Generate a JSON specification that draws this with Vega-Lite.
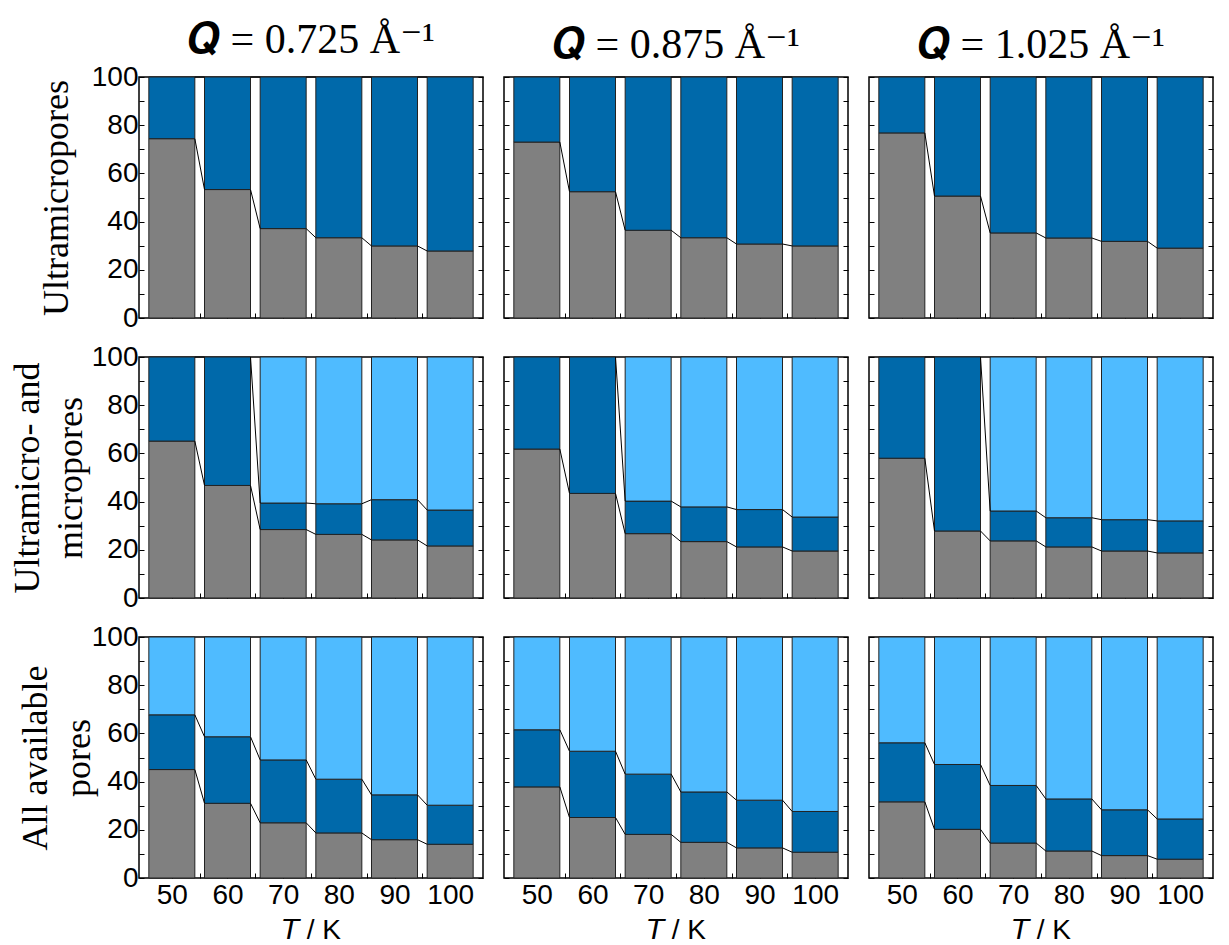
{
  "$schema": "https://vega.github.io/schema/vega-lite/v6.json",
  "background": "white",
  "padding": {"left": 8, "top": 18, "right": 0, "bottom": 0},
  "data": {"values": [
    {"p":"u","q":"0.725","T":50,"g":74.4,"d":100},{"p":"u","q":"0.725","T":60,"g":53.3,"d":100},{"p":"u","q":"0.725","T":70,"g":37.1,"d":100},{"p":"u","q":"0.725","T":80,"g":33.3,"d":100},{"p":"u","q":"0.725","T":90,"g":29.9,"d":100},{"p":"u","q":"0.725","T":100,"g":27.8,"d":100},
    {"p":"u","q":"0.875","T":50,"g":73.0,"d":100},{"p":"u","q":"0.875","T":60,"g":52.4,"d":100},{"p":"u","q":"0.875","T":70,"g":36.4,"d":100},{"p":"u","q":"0.875","T":80,"g":33.3,"d":100},{"p":"u","q":"0.875","T":90,"g":30.7,"d":100},{"p":"u","q":"0.875","T":100,"g":29.9,"d":100},
    {"p":"u","q":"1.025","T":50,"g":76.8,"d":100},{"p":"u","q":"1.025","T":60,"g":50.6,"d":100},{"p":"u","q":"1.025","T":70,"g":35.3,"d":100},{"p":"u","q":"1.025","T":80,"g":33.2,"d":100},{"p":"u","q":"1.025","T":90,"g":31.8,"d":100},{"p":"u","q":"1.025","T":100,"g":29.0,"d":100},
    {"p":"m","q":"0.725","T":50,"g":65.1,"d":100},{"p":"m","q":"0.725","T":60,"g":46.7,"d":100},{"p":"m","q":"0.725","T":70,"g":28.4,"d":39.4},{"p":"m","q":"0.725","T":80,"g":26.4,"d":39.1},{"p":"m","q":"0.725","T":90,"g":24.1,"d":40.8},{"p":"m","q":"0.725","T":100,"g":21.6,"d":36.5},
    {"p":"m","q":"0.875","T":50,"g":61.8,"d":100},{"p":"m","q":"0.875","T":60,"g":43.4,"d":100},{"p":"m","q":"0.875","T":70,"g":26.7,"d":40.2},{"p":"m","q":"0.875","T":80,"g":23.4,"d":37.8},{"p":"m","q":"0.875","T":90,"g":21.2,"d":36.7},{"p":"m","q":"0.875","T":100,"g":19.5,"d":33.6},
    {"p":"m","q":"1.025","T":50,"g":58.0,"d":100},{"p":"m","q":"1.025","T":60,"g":27.8,"d":100},{"p":"m","q":"1.025","T":70,"g":23.7,"d":36.1},{"p":"m","q":"1.025","T":80,"g":21.2,"d":33.3},{"p":"m","q":"1.025","T":90,"g":19.5,"d":32.5},{"p":"m","q":"1.025","T":100,"g":18.7,"d":32.0},
    {"p":"a","q":"0.725","T":50,"g":45.0,"d":67.7},{"p":"a","q":"0.725","T":60,"g":31.0,"d":58.6},{"p":"a","q":"0.725","T":70,"g":22.9,"d":49.0},{"p":"a","q":"0.725","T":80,"g":18.7,"d":41.0},{"p":"a","q":"0.725","T":90,"g":15.9,"d":34.5},{"p":"a","q":"0.725","T":100,"g":14.0,"d":30.2},
    {"p":"a","q":"0.875","T":50,"g":37.8,"d":61.5},{"p":"a","q":"0.875","T":60,"g":25.1,"d":52.6},{"p":"a","q":"0.875","T":70,"g":18.1,"d":43.1},{"p":"a","q":"0.875","T":80,"g":14.8,"d":35.7},{"p":"a","q":"0.875","T":90,"g":12.5,"d":32.3},{"p":"a","q":"0.875","T":100,"g":10.7,"d":27.6},
    {"p":"a","q":"1.025","T":50,"g":31.6,"d":56.1},{"p":"a","q":"1.025","T":60,"g":20.2,"d":47.1},{"p":"a","q":"1.025","T":70,"g":14.5,"d":38.4},{"p":"a","q":"1.025","T":80,"g":11.2,"d":32.8},{"p":"a","q":"1.025","T":90,"g":9.3,"d":28.3},{"p":"a","q":"1.025","T":100,"g":7.8,"d":24.5}
  ]},
  "columns": 3,
  "bounds": "flush",
  "spacing": {"row": 39, "column": 21},
  "concat": [
    {"width":344,"height":241,"title":{"text":"𝑸 = 0.725 Å⁻¹","offset":1},
     "transform":[{"filter":"datum.p=='u' && datum.q=='0.725'"}],
     "layer":[
      {"mark":{"type":"bar","width":46,"fill":"#808080","stroke":"#222","strokeWidth":1},
       "encoding":{"x":{"field":"T","type":"quantitative","scale":{"domain":[45,105],"nice":false,"zero":false},"axis":null},
                   "y":{"field":"g","type":"quantitative","scale":{"domain":[0,100],"nice":false},"axis":{"values":[0,10,20,30,40,50,60,70,80,90,100],"labelExpr":"datum.value % 20 === 0 ? datum.label : ''","title":"Ultramicropores","titlePadding":16}}}},
      {"mark":{"type":"bar","width":46,"fill":"#0069AA","stroke":"#222","strokeWidth":1},
       "encoding":{"x":{"field":"T","type":"quantitative","axis":null},"y":{"field":"d","type":"quantitative","axis":null},"y2":{"field":"g"}}},
      {"transform":[{"filter":"datum.d < 100"}],"mark":{"type":"bar","width":46,"fill":"#4FBBFF","stroke":"#222","strokeWidth":1},
       "encoding":{"x":{"field":"T","type":"quantitative","axis":null},"y":{"field":"d","type":"quantitative","axis":null},"y2":{"datum":100}}},
      {"transform":[{"window":[{"op":"lead","field":"T","as":"Tn"},{"op":"lead","field":"g","as":"gn"},{"op":"lead","field":"d","as":"dn"}],"sort":[{"field":"T"}]},{"filter":"datum.Tn != null"}],
       "layer":[
        {"mark":{"type":"rule","xOffset":23,"x2Offset":-23,"color":"#000","strokeWidth":1},"encoding":{"x":{"field":"T","type":"quantitative","axis":null},"x2":{"field":"Tn"},"y":{"field":"g","type":"quantitative","axis":null},"y2":{"field":"gn"}}},
        {"mark":{"type":"rule","xOffset":23,"x2Offset":-23,"color":"#000","strokeWidth":1},"encoding":{"x":{"field":"T","type":"quantitative","axis":null},"x2":{"field":"Tn"},"y":{"field":"d","type":"quantitative","axis":null},"y2":{"field":"dn"}}}
       ]},
      {"mark":{"type":"point","opacity":0},"encoding":{"x":{"field":"T","type":"quantitative","axis":{"orient":"bottom","values":[50,55,60,65,70,75,80,85,90,95,100],"labels":false,"title":null}},"y":{"field":"g","type":"quantitative","axis":{"orient":"right","values":[0,10,20,30,40,50,60,70,80,90,100],"labels":false,"title":null}}}}
     ],
     "resolve":{"axis":{"x":"independent","y":"independent"}}},
    {"width":344,"height":241,"title":{"text":"𝑸 = 0.875 Å⁻¹","offset":10},
     "transform":[{"filter":"datum.p=='u' && datum.q=='0.875'"}],
     "layer":[
      {"mark":{"type":"bar","width":46,"fill":"#808080","stroke":"#222","strokeWidth":1},
       "encoding":{"x":{"field":"T","type":"quantitative","scale":{"domain":[45,105],"nice":false,"zero":false},"axis":null},
                   "y":{"field":"g","type":"quantitative","scale":{"domain":[0,100],"nice":false},"axis":{"values":[0,10,20,30,40,50,60,70,80,90,100],"labels":false,"title":null}}}},
      {"mark":{"type":"bar","width":46,"fill":"#0069AA","stroke":"#222","strokeWidth":1},
       "encoding":{"x":{"field":"T","type":"quantitative","axis":null},"y":{"field":"d","type":"quantitative","axis":null},"y2":{"field":"g"}}},
      {"transform":[{"filter":"datum.d < 100"}],"mark":{"type":"bar","width":46,"fill":"#4FBBFF","stroke":"#222","strokeWidth":1},
       "encoding":{"x":{"field":"T","type":"quantitative","axis":null},"y":{"field":"d","type":"quantitative","axis":null},"y2":{"datum":100}}},
      {"transform":[{"window":[{"op":"lead","field":"T","as":"Tn"},{"op":"lead","field":"g","as":"gn"},{"op":"lead","field":"d","as":"dn"}],"sort":[{"field":"T"}]},{"filter":"datum.Tn != null"}],
       "layer":[
        {"mark":{"type":"rule","xOffset":23,"x2Offset":-23,"color":"#000","strokeWidth":1},"encoding":{"x":{"field":"T","type":"quantitative","axis":null},"x2":{"field":"Tn"},"y":{"field":"g","type":"quantitative","axis":null},"y2":{"field":"gn"}}},
        {"mark":{"type":"rule","xOffset":23,"x2Offset":-23,"color":"#000","strokeWidth":1},"encoding":{"x":{"field":"T","type":"quantitative","axis":null},"x2":{"field":"Tn"},"y":{"field":"d","type":"quantitative","axis":null},"y2":{"field":"dn"}}}
       ]},
      {"mark":{"type":"point","opacity":0},"encoding":{"x":{"field":"T","type":"quantitative","axis":{"orient":"bottom","values":[50,55,60,65,70,75,80,85,90,95,100],"labels":false,"title":null}},"y":{"field":"g","type":"quantitative","axis":{"orient":"right","values":[0,10,20,30,40,50,60,70,80,90,100],"labels":false,"title":null}}}}
     ],
     "resolve":{"axis":{"x":"independent","y":"independent"}}},
    {"width":344,"height":241,"title":{"text":"𝑸 = 1.025 Å⁻¹","offset":10},
     "transform":[{"filter":"datum.p=='u' && datum.q=='1.025'"}],
     "layer":[
      {"mark":{"type":"bar","width":46,"fill":"#808080","stroke":"#222","strokeWidth":1},
       "encoding":{"x":{"field":"T","type":"quantitative","scale":{"domain":[45,105],"nice":false,"zero":false},"axis":null},
                   "y":{"field":"g","type":"quantitative","scale":{"domain":[0,100],"nice":false},"axis":{"values":[0,10,20,30,40,50,60,70,80,90,100],"labels":false,"title":null}}}},
      {"mark":{"type":"bar","width":46,"fill":"#0069AA","stroke":"#222","strokeWidth":1},
       "encoding":{"x":{"field":"T","type":"quantitative","axis":null},"y":{"field":"d","type":"quantitative","axis":null},"y2":{"field":"g"}}},
      {"transform":[{"filter":"datum.d < 100"}],"mark":{"type":"bar","width":46,"fill":"#4FBBFF","stroke":"#222","strokeWidth":1},
       "encoding":{"x":{"field":"T","type":"quantitative","axis":null},"y":{"field":"d","type":"quantitative","axis":null},"y2":{"datum":100}}},
      {"transform":[{"window":[{"op":"lead","field":"T","as":"Tn"},{"op":"lead","field":"g","as":"gn"},{"op":"lead","field":"d","as":"dn"}],"sort":[{"field":"T"}]},{"filter":"datum.Tn != null"}],
       "layer":[
        {"mark":{"type":"rule","xOffset":23,"x2Offset":-23,"color":"#000","strokeWidth":1},"encoding":{"x":{"field":"T","type":"quantitative","axis":null},"x2":{"field":"Tn"},"y":{"field":"g","type":"quantitative","axis":null},"y2":{"field":"gn"}}},
        {"mark":{"type":"rule","xOffset":23,"x2Offset":-23,"color":"#000","strokeWidth":1},"encoding":{"x":{"field":"T","type":"quantitative","axis":null},"x2":{"field":"Tn"},"y":{"field":"d","type":"quantitative","axis":null},"y2":{"field":"dn"}}}
       ]},
      {"mark":{"type":"point","opacity":0},"encoding":{"x":{"field":"T","type":"quantitative","axis":{"orient":"bottom","values":[50,55,60,65,70,75,80,85,90,95,100],"labels":false,"title":null}},"y":{"field":"g","type":"quantitative","axis":{"orient":"right","values":[0,10,20,30,40,50,60,70,80,90,100],"labels":false,"title":null}}}}
     ],
     "resolve":{"axis":{"x":"independent","y":"independent"}}},

    {"width":344,"height":241,
     "transform":[{"filter":"datum.p=='m' && datum.q=='0.725'"}],
     "layer":[
      {"mark":{"type":"bar","width":46,"fill":"#808080","stroke":"#222","strokeWidth":1},
       "encoding":{"x":{"field":"T","type":"quantitative","scale":{"domain":[45,105],"nice":false,"zero":false},"axis":null},
                   "y":{"field":"g","type":"quantitative","scale":{"domain":[0,100],"nice":false},"axis":{"values":[0,10,20,30,40,50,60,70,80,90,100],"labelExpr":"datum.value % 20 === 0 ? datum.label : ''","title":["Ultramicro- and","micropores"],"titlePadding":2}}}},
      {"mark":{"type":"bar","width":46,"fill":"#0069AA","stroke":"#222","strokeWidth":1},
       "encoding":{"x":{"field":"T","type":"quantitative","axis":null},"y":{"field":"d","type":"quantitative","axis":null},"y2":{"field":"g"}}},
      {"transform":[{"filter":"datum.d < 100"}],"mark":{"type":"bar","width":46,"fill":"#4FBBFF","stroke":"#222","strokeWidth":1},
       "encoding":{"x":{"field":"T","type":"quantitative","axis":null},"y":{"field":"d","type":"quantitative","axis":null},"y2":{"datum":100}}},
      {"transform":[{"window":[{"op":"lead","field":"T","as":"Tn"},{"op":"lead","field":"g","as":"gn"},{"op":"lead","field":"d","as":"dn"}],"sort":[{"field":"T"}]},{"filter":"datum.Tn != null"}],
       "layer":[
        {"mark":{"type":"rule","xOffset":23,"x2Offset":-23,"color":"#000","strokeWidth":1},"encoding":{"x":{"field":"T","type":"quantitative","axis":null},"x2":{"field":"Tn"},"y":{"field":"g","type":"quantitative","axis":null},"y2":{"field":"gn"}}},
        {"mark":{"type":"rule","xOffset":23,"x2Offset":-23,"color":"#000","strokeWidth":1},"encoding":{"x":{"field":"T","type":"quantitative","axis":null},"x2":{"field":"Tn"},"y":{"field":"d","type":"quantitative","axis":null},"y2":{"field":"dn"}}}
       ]},
      {"mark":{"type":"point","opacity":0},"encoding":{"x":{"field":"T","type":"quantitative","axis":{"orient":"bottom","values":[50,55,60,65,70,75,80,85,90,95,100],"labels":false,"title":null}},"y":{"field":"g","type":"quantitative","axis":{"orient":"right","values":[0,10,20,30,40,50,60,70,80,90,100],"labels":false,"title":null}}}}
     ],
     "resolve":{"axis":{"x":"independent","y":"independent"}}},
    {"width":344,"height":241,
     "transform":[{"filter":"datum.p=='m' && datum.q=='0.875'"}],
     "layer":[
      {"mark":{"type":"bar","width":46,"fill":"#808080","stroke":"#222","strokeWidth":1},
       "encoding":{"x":{"field":"T","type":"quantitative","scale":{"domain":[45,105],"nice":false,"zero":false},"axis":null},
                   "y":{"field":"g","type":"quantitative","scale":{"domain":[0,100],"nice":false},"axis":{"values":[0,10,20,30,40,50,60,70,80,90,100],"labels":false,"title":null}}}},
      {"mark":{"type":"bar","width":46,"fill":"#0069AA","stroke":"#222","strokeWidth":1},
       "encoding":{"x":{"field":"T","type":"quantitative","axis":null},"y":{"field":"d","type":"quantitative","axis":null},"y2":{"field":"g"}}},
      {"transform":[{"filter":"datum.d < 100"}],"mark":{"type":"bar","width":46,"fill":"#4FBBFF","stroke":"#222","strokeWidth":1},
       "encoding":{"x":{"field":"T","type":"quantitative","axis":null},"y":{"field":"d","type":"quantitative","axis":null},"y2":{"datum":100}}},
      {"transform":[{"window":[{"op":"lead","field":"T","as":"Tn"},{"op":"lead","field":"g","as":"gn"},{"op":"lead","field":"d","as":"dn"}],"sort":[{"field":"T"}]},{"filter":"datum.Tn != null"}],
       "layer":[
        {"mark":{"type":"rule","xOffset":23,"x2Offset":-23,"color":"#000","strokeWidth":1},"encoding":{"x":{"field":"T","type":"quantitative","axis":null},"x2":{"field":"Tn"},"y":{"field":"g","type":"quantitative","axis":null},"y2":{"field":"gn"}}},
        {"mark":{"type":"rule","xOffset":23,"x2Offset":-23,"color":"#000","strokeWidth":1},"encoding":{"x":{"field":"T","type":"quantitative","axis":null},"x2":{"field":"Tn"},"y":{"field":"d","type":"quantitative","axis":null},"y2":{"field":"dn"}}}
       ]},
      {"mark":{"type":"point","opacity":0},"encoding":{"x":{"field":"T","type":"quantitative","axis":{"orient":"bottom","values":[50,55,60,65,70,75,80,85,90,95,100],"labels":false,"title":null}},"y":{"field":"g","type":"quantitative","axis":{"orient":"right","values":[0,10,20,30,40,50,60,70,80,90,100],"labels":false,"title":null}}}}
     ],
     "resolve":{"axis":{"x":"independent","y":"independent"}}},
    {"width":344,"height":241,
     "transform":[{"filter":"datum.p=='m' && datum.q=='1.025'"}],
     "layer":[
      {"mark":{"type":"bar","width":46,"fill":"#808080","stroke":"#222","strokeWidth":1},
       "encoding":{"x":{"field":"T","type":"quantitative","scale":{"domain":[45,105],"nice":false,"zero":false},"axis":null},
                   "y":{"field":"g","type":"quantitative","scale":{"domain":[0,100],"nice":false},"axis":{"values":[0,10,20,30,40,50,60,70,80,90,100],"labels":false,"title":null}}}},
      {"mark":{"type":"bar","width":46,"fill":"#0069AA","stroke":"#222","strokeWidth":1},
       "encoding":{"x":{"field":"T","type":"quantitative","axis":null},"y":{"field":"d","type":"quantitative","axis":null},"y2":{"field":"g"}}},
      {"transform":[{"filter":"datum.d < 100"}],"mark":{"type":"bar","width":46,"fill":"#4FBBFF","stroke":"#222","strokeWidth":1},
       "encoding":{"x":{"field":"T","type":"quantitative","axis":null},"y":{"field":"d","type":"quantitative","axis":null},"y2":{"datum":100}}},
      {"transform":[{"window":[{"op":"lead","field":"T","as":"Tn"},{"op":"lead","field":"g","as":"gn"},{"op":"lead","field":"d","as":"dn"}],"sort":[{"field":"T"}]},{"filter":"datum.Tn != null"}],
       "layer":[
        {"mark":{"type":"rule","xOffset":23,"x2Offset":-23,"color":"#000","strokeWidth":1},"encoding":{"x":{"field":"T","type":"quantitative","axis":null},"x2":{"field":"Tn"},"y":{"field":"g","type":"quantitative","axis":null},"y2":{"field":"gn"}}},
        {"mark":{"type":"rule","xOffset":23,"x2Offset":-23,"color":"#000","strokeWidth":1},"encoding":{"x":{"field":"T","type":"quantitative","axis":null},"x2":{"field":"Tn"},"y":{"field":"d","type":"quantitative","axis":null},"y2":{"field":"dn"}}}
       ]},
      {"mark":{"type":"point","opacity":0},"encoding":{"x":{"field":"T","type":"quantitative","axis":{"orient":"bottom","values":[50,55,60,65,70,75,80,85,90,95,100],"labels":false,"title":null}},"y":{"field":"g","type":"quantitative","axis":{"orient":"right","values":[0,10,20,30,40,50,60,70,80,90,100],"labels":false,"title":null}}}}
     ],
     "resolve":{"axis":{"x":"independent","y":"independent"}}},

    {"width":344,"height":241,
     "transform":[{"filter":"datum.p=='a' && datum.q=='0.725'"}],
     "layer":[
      {"mark":{"type":"bar","width":46,"fill":"#808080","stroke":"#222","strokeWidth":1},
       "encoding":{"x":{"field":"T","type":"quantitative","scale":{"domain":[45,105],"nice":false,"zero":false},"axis":null},
                   "y":{"field":"g","type":"quantitative","scale":{"domain":[0,100],"nice":false},"axis":{"values":[0,10,20,30,40,50,60,70,80,90,100],"labelExpr":"datum.value % 20 === 0 ? datum.label : ''","title":["All available","pores"],"titlePadding":-6}}}},
      {"mark":{"type":"bar","width":46,"fill":"#0069AA","stroke":"#222","strokeWidth":1},
       "encoding":{"x":{"field":"T","type":"quantitative","axis":null},"y":{"field":"d","type":"quantitative","axis":null},"y2":{"field":"g"}}},
      {"transform":[{"filter":"datum.d < 100"}],"mark":{"type":"bar","width":46,"fill":"#4FBBFF","stroke":"#222","strokeWidth":1},
       "encoding":{"x":{"field":"T","type":"quantitative","axis":null},"y":{"field":"d","type":"quantitative","axis":null},"y2":{"datum":100}}},
      {"transform":[{"window":[{"op":"lead","field":"T","as":"Tn"},{"op":"lead","field":"g","as":"gn"},{"op":"lead","field":"d","as":"dn"}],"sort":[{"field":"T"}]},{"filter":"datum.Tn != null"}],
       "layer":[
        {"mark":{"type":"rule","xOffset":23,"x2Offset":-23,"color":"#000","strokeWidth":1},"encoding":{"x":{"field":"T","type":"quantitative","axis":null},"x2":{"field":"Tn"},"y":{"field":"g","type":"quantitative","axis":null},"y2":{"field":"gn"}}},
        {"mark":{"type":"rule","xOffset":23,"x2Offset":-23,"color":"#000","strokeWidth":1},"encoding":{"x":{"field":"T","type":"quantitative","axis":null},"x2":{"field":"Tn"},"y":{"field":"d","type":"quantitative","axis":null},"y2":{"field":"dn"}}}
       ]},
      {"mark":{"type":"point","opacity":0},"encoding":{"x":{"field":"T","type":"quantitative","axis":{"orient":"bottom","values":[50,55,60,65,70,75,80,85,90,95,100],"labels":true,"labelExpr":"datum.value % 10 === 0 ? datum.label : ''","labelPadding":8,"title":"𝘛 / K","titleFont":"Liberation Sans","titleFontSize":28,"titlePadding":7}},"y":{"field":"g","type":"quantitative","axis":{"orient":"right","values":[0,10,20,30,40,50,60,70,80,90,100],"labels":false,"title":null}}}}
     ],
     "resolve":{"axis":{"x":"independent","y":"independent"}}},
    {"width":344,"height":241,
     "transform":[{"filter":"datum.p=='a' && datum.q=='0.875'"}],
     "layer":[
      {"mark":{"type":"bar","width":46,"fill":"#808080","stroke":"#222","strokeWidth":1},
       "encoding":{"x":{"field":"T","type":"quantitative","scale":{"domain":[45,105],"nice":false,"zero":false},"axis":null},
                   "y":{"field":"g","type":"quantitative","scale":{"domain":[0,100],"nice":false},"axis":{"values":[0,10,20,30,40,50,60,70,80,90,100],"labels":false,"title":null}}}},
      {"mark":{"type":"bar","width":46,"fill":"#0069AA","stroke":"#222","strokeWidth":1},
       "encoding":{"x":{"field":"T","type":"quantitative","axis":null},"y":{"field":"d","type":"quantitative","axis":null},"y2":{"field":"g"}}},
      {"transform":[{"filter":"datum.d < 100"}],"mark":{"type":"bar","width":46,"fill":"#4FBBFF","stroke":"#222","strokeWidth":1},
       "encoding":{"x":{"field":"T","type":"quantitative","axis":null},"y":{"field":"d","type":"quantitative","axis":null},"y2":{"datum":100}}},
      {"transform":[{"window":[{"op":"lead","field":"T","as":"Tn"},{"op":"lead","field":"g","as":"gn"},{"op":"lead","field":"d","as":"dn"}],"sort":[{"field":"T"}]},{"filter":"datum.Tn != null"}],
       "layer":[
        {"mark":{"type":"rule","xOffset":23,"x2Offset":-23,"color":"#000","strokeWidth":1},"encoding":{"x":{"field":"T","type":"quantitative","axis":null},"x2":{"field":"Tn"},"y":{"field":"g","type":"quantitative","axis":null},"y2":{"field":"gn"}}},
        {"mark":{"type":"rule","xOffset":23,"x2Offset":-23,"color":"#000","strokeWidth":1},"encoding":{"x":{"field":"T","type":"quantitative","axis":null},"x2":{"field":"Tn"},"y":{"field":"d","type":"quantitative","axis":null},"y2":{"field":"dn"}}}
       ]},
      {"mark":{"type":"point","opacity":0},"encoding":{"x":{"field":"T","type":"quantitative","axis":{"orient":"bottom","values":[50,55,60,65,70,75,80,85,90,95,100],"labels":true,"labelExpr":"datum.value % 10 === 0 ? datum.label : ''","labelPadding":8,"title":"𝘛 / K","titleFont":"Liberation Sans","titleFontSize":28,"titlePadding":7}},"y":{"field":"g","type":"quantitative","axis":{"orient":"right","values":[0,10,20,30,40,50,60,70,80,90,100],"labels":false,"title":null}}}}
     ],
     "resolve":{"axis":{"x":"independent","y":"independent"}}},
    {"width":344,"height":241,
     "transform":[{"filter":"datum.p=='a' && datum.q=='1.025'"}],
     "layer":[
      {"mark":{"type":"bar","width":46,"fill":"#808080","stroke":"#222","strokeWidth":1},
       "encoding":{"x":{"field":"T","type":"quantitative","scale":{"domain":[45,105],"nice":false,"zero":false},"axis":null},
                   "y":{"field":"g","type":"quantitative","scale":{"domain":[0,100],"nice":false},"axis":{"values":[0,10,20,30,40,50,60,70,80,90,100],"labels":false,"title":null}}}},
      {"mark":{"type":"bar","width":46,"fill":"#0069AA","stroke":"#222","strokeWidth":1},
       "encoding":{"x":{"field":"T","type":"quantitative","axis":null},"y":{"field":"d","type":"quantitative","axis":null},"y2":{"field":"g"}}},
      {"transform":[{"filter":"datum.d < 100"}],"mark":{"type":"bar","width":46,"fill":"#4FBBFF","stroke":"#222","strokeWidth":1},
       "encoding":{"x":{"field":"T","type":"quantitative","axis":null},"y":{"field":"d","type":"quantitative","axis":null},"y2":{"datum":100}}},
      {"transform":[{"window":[{"op":"lead","field":"T","as":"Tn"},{"op":"lead","field":"g","as":"gn"},{"op":"lead","field":"d","as":"dn"}],"sort":[{"field":"T"}]},{"filter":"datum.Tn != null"}],
       "layer":[
        {"mark":{"type":"rule","xOffset":23,"x2Offset":-23,"color":"#000","strokeWidth":1},"encoding":{"x":{"field":"T","type":"quantitative","axis":null},"x2":{"field":"Tn"},"y":{"field":"g","type":"quantitative","axis":null},"y2":{"field":"gn"}}},
        {"mark":{"type":"rule","xOffset":23,"x2Offset":-23,"color":"#000","strokeWidth":1},"encoding":{"x":{"field":"T","type":"quantitative","axis":null},"x2":{"field":"Tn"},"y":{"field":"d","type":"quantitative","axis":null},"y2":{"field":"dn"}}}
       ]},
      {"mark":{"type":"point","opacity":0},"encoding":{"x":{"field":"T","type":"quantitative","axis":{"orient":"bottom","values":[50,55,60,65,70,75,80,85,90,95,100],"labels":true,"labelExpr":"datum.value % 10 === 0 ? datum.label : ''","labelPadding":8,"title":"𝘛 / K","titleFont":"Liberation Sans","titleFontSize":28,"titlePadding":7}},"y":{"field":"g","type":"quantitative","axis":{"orient":"right","values":[0,10,20,30,40,50,60,70,80,90,100],"labels":false,"title":null}}}}
     ],
     "resolve":{"axis":{"x":"independent","y":"independent"}}}
  ],
  "config": {
    "view": {"stroke": "#000", "strokeWidth": 1.5},
    "axis": {"grid": false, "domain": false, "tickColor": "#000", "tickSize": -5, "tickWidth": 1, "zindex": 1,
             "labelFont": "Liberation Sans", "labelFontSize": 28, "labelColor": "#000", "labelPadding": 6,
             "labelOverlap": false, "labelFlush": false, "minExtent": 0,
             "titleFont": "Liberation Serif", "titleFontSize": 36, "titleFontWeight": "normal", "titleColor": "#000", "titleLineHeight": 43},
    "title": {"font": "Liberation Serif, DejaVu Serif", "fontSize": 42, "fontWeight": "normal", "color": "#000", "frame": "group", "anchor": "middle"}
  }
}
